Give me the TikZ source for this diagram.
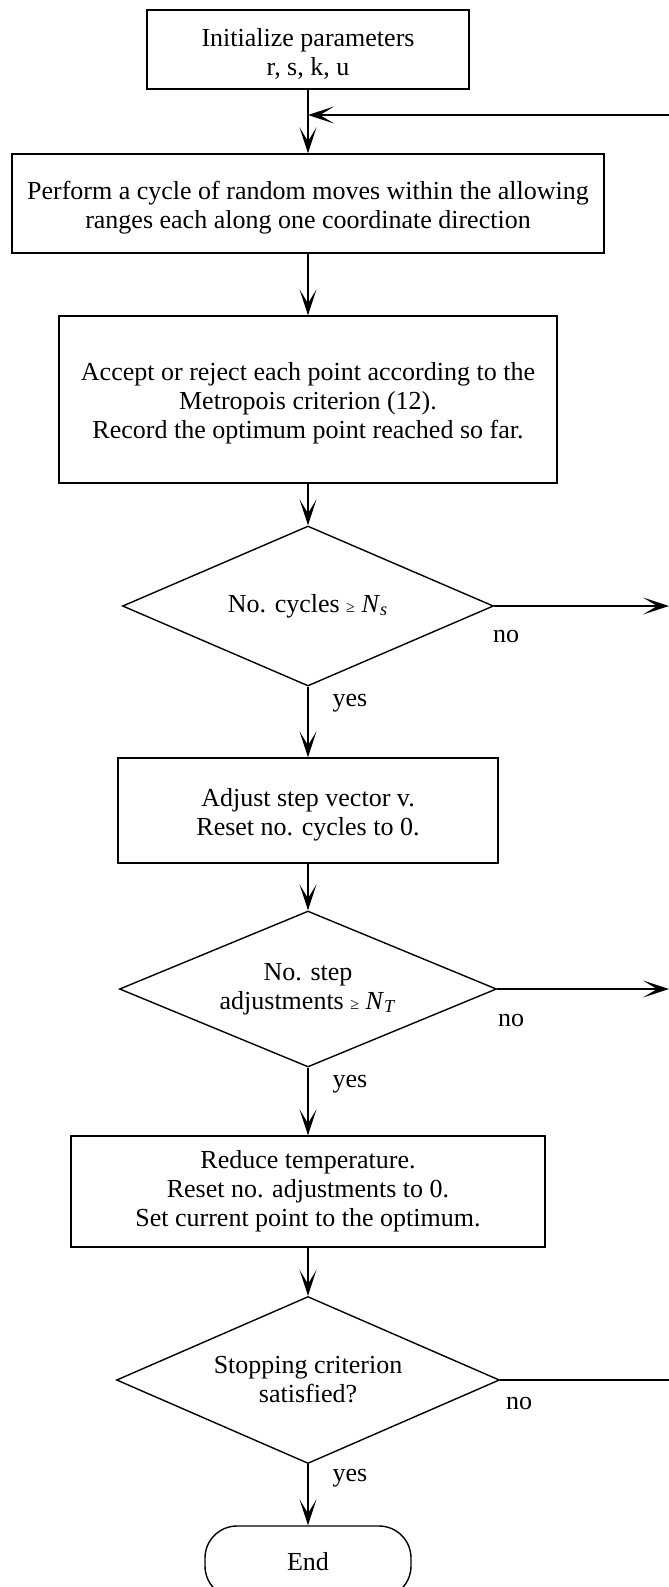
\documentclass[tikz,border=0pt]{standalone}
\usepackage{fontspec}
\setmainfont{Liberation Serif}
\usetikzlibrary{shapes.geometric,arrows.meta}

\begin{document}
\begin{tikzpicture}[x=0.5pt,y=-0.5pt,font=\fontsize{13pt}{14.5pt}\selectfont,
	box/.style={draw,line width=0.7pt,align=center,inner sep=0pt},
	test/.style={draw,line width=0.7pt,diamond,aspect=2.4,align=center,inner sep=0pt},
	flow/.style={line width=0.7pt,-{Stealth[length=13pt,width=8.5pt,inset=7pt]}},
	lbl/.style={inner sep=0pt}]
	\useasboundingbox (0,0) rectangle (669,1587);
	\clip (0,0) rectangle (669,1587);
	\node[box,minimum width=161pt,minimum height=39.5pt] (init) at (308,49.5) {\rule{0pt}{13pt}Initialize parameters\\r, s, k, u};
	\node[box,minimum width=296pt,minimum height=49.5pt] (moves) at (308,203.5) {\rule{0pt}{13pt}Perform a cycle of random moves within the allowing\\ranges each along one coordinate direction};
	\node[box,minimum width=249pt,minimum height=83.5pt] (accept) at (308,399.5) {\rule{0pt}{13pt}Accept or reject each point according to the\\Metropois criterion (12).\\Record the optimum point reached so far.};
	\node[test,minimum width=185.5pt,minimum height=80pt] (cycles) at (308,606) {No. cycles {\footnotesize ≥} \textit{N}\textsubscript{\textit{s}}};
	\node[box,minimum width=190pt,minimum height=52.5pt] (adjust) at (308,810.5) {\rule{0pt}{13pt}Adjust step vector v.\\Reset no. cycles to 0.};
	\node[test,minimum width=188.5pt,minimum height=78pt] (steps) at (308,989) {No. step\\adjustments {\footnotesize ≥} \textit{N}\textsubscript{\textit{T}}};
	\node[box,minimum width=237pt,minimum height=55.5pt] (reduce) at (308,1191.5) {Reduce temperature.\\Reset no. adjustments to 0.\\Set current point to the optimum.};
	\node[test,minimum width=191.5pt,minimum height=83.5pt] (stopping) at (308,1380) {Stopping criterion\\satisfied?};
	\node[draw,line width=0.7pt,rounded corners=16pt,minimum width=103pt,minimum height=36pt] (stop) at (308,1562) {End};
	\coordinate (back) at (669,115);
	\coordinate (join) at (init.south |- back);
	\coordinate (out1) at (669,606);
	\coordinate (out2) at (669,989);
	\coordinate (out3) at (669,1380);
	\draw[flow] (init) -- (moves);
	\draw[flow] (back) -- (join);
	\draw[flow] (moves) -- (accept);
	\draw[flow] (accept) -- (cycles);
	\draw[flow] (cycles) -- (adjust);
	\draw[flow] (cycles.east) -- (out1);
	\draw[flow] (adjust) -- (steps);
	\draw[flow] (steps) -- (reduce);
	\draw[flow] (steps.east) -- (out2);
	\draw[flow] (reduce) -- (stopping);
	\draw[flow] (stopping) -- (stop);
	\draw[line width=0.7pt] (stopping.east) -- (out3);
	\node[lbl] (no1) at (506,636) {no};
	\node[lbl] (yes1) at (350,703) {yes};
	\node[lbl] (no2) at (511,1020) {no};
	\node[lbl] (yes2) at (350,1084) {yes};
	\node[lbl] (no3) at (519,1403) {no};
	\node[lbl] (yes3) at (350,1478) {yes};
\end{tikzpicture}
\end{document}
